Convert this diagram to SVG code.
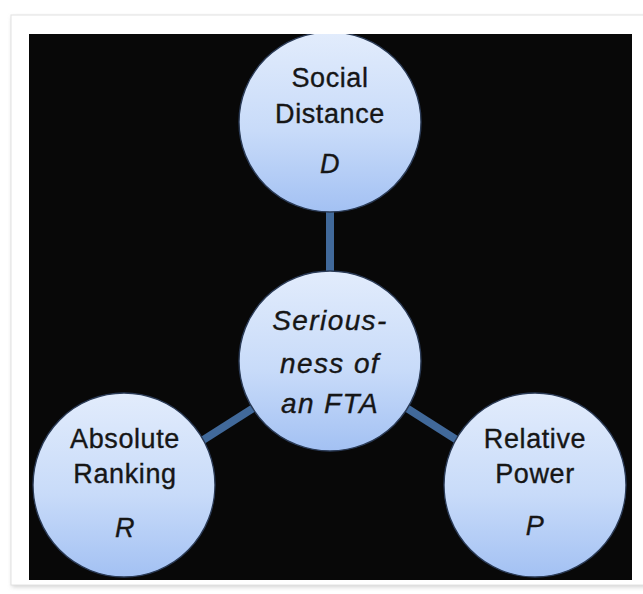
<svg xmlns="http://www.w3.org/2000/svg" width="643" height="594" viewBox="0 0 643 594">
<defs>
<linearGradient id="bub" x1="0" y1="0" x2="0" y2="1">
<stop offset="0" stop-color="#e2ecfc"/>
<stop offset="0.55" stop-color="#c8dbf9"/>
<stop offset="1" stop-color="#a3c1f3"/>
</linearGradient>
<clipPath id="panel"><rect x="29" y="34" width="603" height="546"/></clipPath>
<filter id="sh" x="-5%" y="-5%" width="115%" height="115%">
<feGaussianBlur stdDeviation="2"/>
</filter>
</defs>
<style>
.node{fill:url(#bub);stroke:#2a3a55;stroke-width:1.4}
.lbl{font-family:"Liberation Sans",Arial,sans-serif;font-size:27px;fill:#161616;stroke:#161616;stroke-width:0.35;text-anchor:middle;letter-spacing:0.6px}
.it{font-style:italic}
.big{font-size:28px;letter-spacing:1.4px}
.conn{stroke:#41699a;stroke-width:8;stroke-linecap:butt}
</style>
<rect width="643" height="594" fill="#ffffff"/>
<rect x="12" y="17" width="640" height="570" fill="#d0d0d0" filter="url(#sh)"/>
<rect x="11" y="15" width="640" height="570" fill="#ffffff" stroke="#e2e2e2" stroke-width="1"/>
<rect x="29" y="34" width="603" height="546" fill="#080808"/>
<g clip-path="url(#panel)">
<g id="connectors">
<line class="conn" x1="330" y1="205" x2="330" y2="275"/>
<line class="conn" x1="200" y1="442" x2="255" y2="407"/>
<line class="conn" x1="405" y1="407" x2="460" y2="442"/>
</g>
<g id="node-distance">
<ellipse class="node" cx="330" cy="122" rx="91" ry="90"/>
<text class="lbl" x="330" y="87">Social</text>
<text class="lbl" x="330" y="123">Distance</text>
<text class="lbl it" x="330" y="173">D</text>
</g>
<g id="node-seriousness">
<ellipse class="node" cx="330" cy="361" rx="91" ry="90"/>
<text class="lbl it big" x="330" y="330">Serious-</text>
<text class="lbl it big" x="330" y="373">ness of</text>
<text class="lbl it big" x="330" y="413">an FTA</text>
</g>
<g id="node-ranking">
<ellipse class="node" cx="124" cy="485" rx="91" ry="92"/>
<text class="lbl" x="125" y="448">Absolute</text>
<text class="lbl" x="125" y="483">Ranking</text>
<text class="lbl it" x="125" y="537">R</text>
</g>
<g id="node-power">
<ellipse class="node" cx="535" cy="485" rx="91" ry="92"/>
<text class="lbl" x="535" y="448">Relative</text>
<text class="lbl" x="535" y="483">Power</text>
<text class="lbl it" x="535" y="535">P</text>
</g>
</g>
</svg>
